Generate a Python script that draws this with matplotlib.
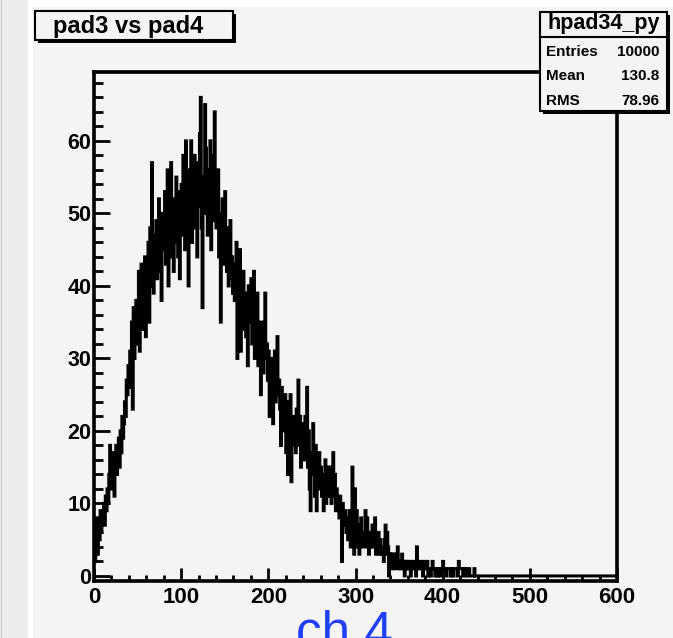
import numpy as np
import matplotlib
matplotlib.use("Agg")
import matplotlib.pyplot as plt
from matplotlib.patches import Rectangle
from matplotlib.ticker import MultipleLocator

# hpad34_py contents, one value per unit bin from 0 to 439 (rest are empty)
counts = [
    4, 2, 6, 8, 3, 7, 5, 9, 6, 8,            # 0
    8, 10, 7, 11, 9, 12, 10, 14, 18, 12,     # 10
    16, 13, 17, 11, 15, 18, 14, 16, 19, 15,  # 20
    20, 17, 22, 19, 21, 24, 22, 27, 25, 29,  # 30
    26, 31, 28, 35, 23, 37, 30, 33, 38, 32,  # 40
    36, 42, 31, 39, 43, 34, 40, 37, 44, 33,  # 50
    41, 38, 46, 35, 48, 40, 57, 43, 39, 47,  # 60
    44, 49, 41, 46, 52, 42, 48, 38, 50, 45,  # 70
    47, 53, 43, 49, 56, 40, 51, 46, 57, 44,  # 80
    48, 42, 52, 46, 55, 50, 44, 53, 41, 49,  # 90
    54, 47, 58, 51, 45, 60, 49, 53, 40, 56,  # 100
    50, 60, 46, 55, 52, 58, 48, 54, 44, 57,  # 110
    51, 61, 66, 48, 37, 55, 50, 65, 59, 53,  # 120
    47, 56, 52, 60, 45, 54, 49, 58, 64, 51,  # 130
    48, 53, 56, 44, 50, 35, 47, 52, 43, 49,  # 140
    53, 45, 42, 48, 40, 46, 49, 41, 44, 39,  # 150
    43, 38, 41, 46, 30, 40, 36, 45, 31, 39,  # 160
    37, 42, 34, 39, 33, 36, 29, 40, 35, 38,  # 170
    41, 32, 37, 42, 30, 36, 34, 39, 29, 35,  # 180
    33, 25, 31, 35, 28, 34, 39, 30, 32, 27,  # 190
    31, 22, 29, 26, 30, 21, 28, 31, 24, 27,  # 200
    33, 25, 27, 23, 18, 26, 22, 24, 20, 25,  # 210
    17, 24, 14, 19, 16, 25, 13, 21, 18, 22,  # 220
    20, 17, 23, 19, 27, 18, 22, 15, 21, 17,  # 230
    19, 16, 22, 18, 26, 15, 20, 12, 9, 17,   # 240
    14, 21, 16, 11, 18, 9, 15, 13, 17, 12,   # 250
    15, 11, 14, 9, 13, 16, 10, 12, 15, 11,   # 260
    13, 15, 10, 12, 17, 11, 14, 9, 12, 10,   # 270
    10, 8, 11, 9, 2, 10, 8, 7, 9, 6,         # 280
    8, 5, 7, 9, 4, 6, 15, 7, 3, 12,          # 290
    6, 9, 4, 7, 3, 5, 8, 6, 4, 5,            # 300
    6, 9, 4, 8, 5, 3, 6, 4, 5, 7,            # 310
    4, 5, 8, 3, 5, 4, 6, 3, 5, 4,            # 320
    3, 4, 2, 5, 7, 3, 6, 4, 0, 3,            # 330
    2, 3, 1, 3, 2, 1, 3, 2, 4, 1,            # 340
    2, 1, 2, 3, 1, 2, 0, 2, 1, 2,            # 350
    1, 2, 1, 0, 2, 1, 1, 2, 1, 0,            # 360
    4, 1, 2, 1, 1, 2, 1, 0, 1, 2,            # 370
    1, 1, 2, 0, 1, 1, 0, 1, 2, 1,            # 380
    1, 0, 1, 1, 0, 1, 1, 0, 1, 1,            # 390
    2, 1, 1, 1, 0, 1, 1, 1, 1, 0,            # 400
    1, 1, 0, 1, 1, 1, 1, 0, 2, 1,            # 410
    1, 1, 1, 0, 1, 1, 1, 0, 1, 1,            # 420
    1, 0, 0, 0, 0, 0, 1, 0, 0, 0,            # 430
]
n_bins = 600
x_min, x_max = 0, 600
counts = counts + [0] * (n_bins - len(counts))
edges = np.linspace(x_min, x_max, n_bins + 1)

hist_name = "hpad34_py"
stat_names = ["Entries", "Mean", "RMS"]
stat_values = ["10000", "130.8", "78.96"]
title = "pad3 vs pad4"
bottom_label = "ch 4"

W, H = 673, 638
fig = plt.figure(figsize=(W / 100, H / 100), dpi=100, facecolor="white")


def fx(x):
    return x / W


def fy(y):
    return 1 - y / H


# canvas background pieces
fig.patches.append(Rectangle((0, 0), fx(28), 1, transform=fig.transFigure,
                             facecolor="#ececec", edgecolor="none", zorder=-10))
fig.patches.append(Rectangle((fx(0.5), 0), fx(1.5), 1, transform=fig.transFigure,
                             facecolor="#c8c8c8", edgecolor="none", zorder=-9))
fig.patches.append(Rectangle((fx(33), 0), fx(W - 33), 1 - 7 / H, transform=fig.transFigure,
                             facecolor="#f4f4f4", edgecolor="none", zorder=-10))

# frame
ax = fig.add_axes([fx(94), fy(581), fx(617 - 94), (581 - 72) / H])
ax.set_facecolor("#f4f4f4")
ax.stairs(counts, edges, color="black", linewidth=2.2, baseline=None)
ax.set_xlim(x_min, x_max)
ax.set_ylim(-0.7, 69.5)

ax.xaxis.set_major_locator(MultipleLocator(100))
ax.xaxis.set_minor_locator(MultipleLocator(20))
ax.yaxis.set_major_locator(MultipleLocator(10))
ax.yaxis.set_minor_locator(MultipleLocator(2))
ax.tick_params(axis="x", which="major", direction="in", length=9.5, width=2, pad=4,
               labelsize=16, top=False)
ax.tick_params(axis="x", which="minor", direction="in", length=4, width=2, top=False)
ax.tick_params(axis="y", which="major", direction="in", length=11.5, width=2, pad=2,
               labelsize=15.5, right=False)
ax.tick_params(axis="y", which="minor", direction="in", length=6.5, width=2, right=False)
for lab in ax.get_xticklabels() + ax.get_yticklabels():
    lab.set_fontweight("bold")
    lab.set_family("Liberation Sans")
for sp in ax.spines.values():
    sp.set_linewidth(2.6)

# title pave with shadow
fig.patches.append(Rectangle((fx(38), fy(43)), fx(198), 29 / H, transform=fig.transFigure,
                             facecolor="black", edgecolor="none", zorder=2))
fig.patches.append(Rectangle((fx(35), fy(40)), fx(198), 29 / H, transform=fig.transFigure,
                             facecolor="#f4f4f4", edgecolor="black", linewidth=1.5, zorder=3))
fig.text(fx(128), fy(27), title, ha="center", va="center", fontsize=17,
         fontweight="bold", family="Liberation Sans", zorder=4)

# stats box with shadow
fig.patches.append(Rectangle((fx(543), fy(114)), fx(127), 99 / H, transform=fig.transFigure,
                             facecolor="black", edgecolor="none", zorder=2))
fig.patches.append(Rectangle((fx(540), fy(111)), fx(127), 99 / H, transform=fig.transFigure,
                             facecolor="#f4f4f4", edgecolor="black", linewidth=1.5, zorder=3))
fig.lines.append(plt.Line2D([fx(540), fx(667)], [fy(37), fy(37)], transform=fig.transFigure,
                            color="black", linewidth=1.5, zorder=4))
fig.text(fx(604), fy(24), hist_name, ha="center", va="center", fontsize=15.5,
         fontweight="bold", family="Liberation Sans", zorder=5)
for i, (nm, val) in enumerate(zip(stat_names, stat_values)):
    yy = 52 + i * 24.5
    fig.text(fx(546), fy(yy), nm, ha="left", va="center", fontsize=11,
             fontweight="bold", family="Liberation Sans", zorder=5)
    fig.text(fx(659), fy(yy), val, ha="right", va="center", fontsize=11,
             fontweight="bold", family="Liberation Sans", zorder=5)

# axis caption, cut by the bottom edge as in the original canvas grab
fig.text(fx(344), fy(648), bottom_label, ha="center", va="baseline", fontsize=37,
         color="#2040ff", family="Liberation Sans")

fig.savefig("out.png", dpi=100, facecolor=fig.get_facecolor())
